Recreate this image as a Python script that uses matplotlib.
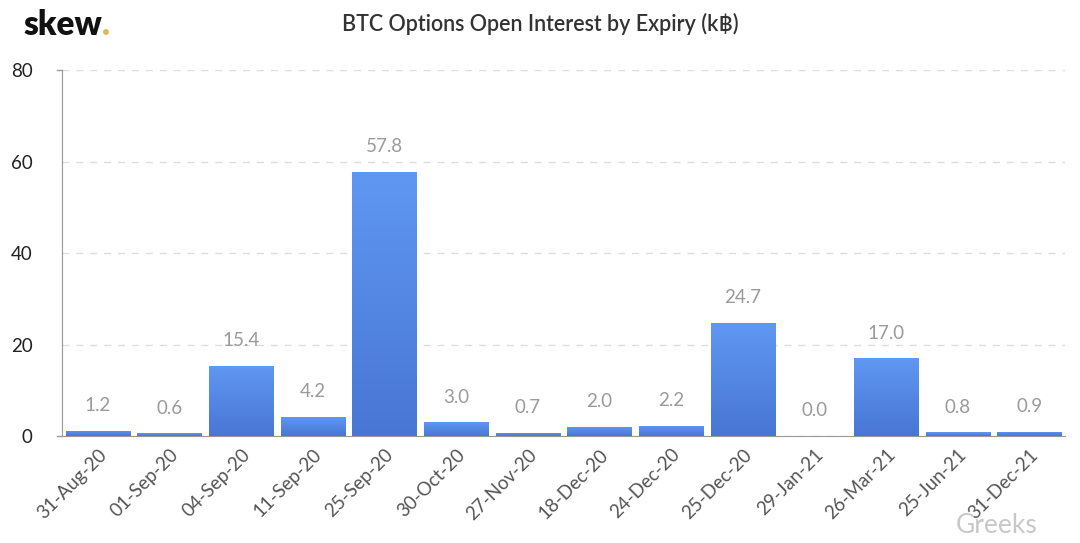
import numpy as np
import matplotlib.pyplot as plt
from matplotlib.colors import LinearSegmentedColormap

expiries = ['31-Aug-20', '01-Sep-20', '04-Sep-20', '11-Sep-20', '25-Sep-20',
            '30-Oct-20', '27-Nov-20', '18-Dec-20', '24-Dec-20', '25-Dec-20',
            '29-Jan-21', '26-Mar-21', '25-Jun-21', '31-Dec-21']
open_interest = [1.2, 0.6, 15.4, 4.2, 57.8, 3.0, 0.7, 2.0, 2.2, 24.7, 0.0, 17.0, 0.8, 0.9]
yticks = [0, 20, 40, 60, 80]

plt.rcParams['font.family'] = ['Lato', 'DejaVu Sans']

fig = plt.figure(figsize=(10.8, 5.43), dpi=100)
ax = fig.add_axes([0.0574, 0.197, 0.929, 0.674])

x = np.arange(len(expiries))
bars = ax.bar(x, open_interest, width=0.9, color='none', zorder=3)

# vertical gradient inside each bar
cmap = LinearSegmentedColormap.from_list('blu', ['#4876d4', '#5f98f2'])
grad = np.linspace(0, 1, 256).reshape(-1, 1)
for b in bars:
    h = b.get_height()
    if h <= 0:
        continue
    x0 = b.get_x()
    im = ax.imshow(grad, cmap=cmap, origin='lower', aspect='auto',
                   extent=[x0, x0 + b.get_width(), 0, h], zorder=3)
    im.set_clip_path(b)

for xi, v in zip(x, open_interest):
    ax.annotate(f'{v:.1f}', (xi, v), xytext=(0, 12), textcoords='offset points',
                ha='center', va='bottom', color='#9a9a9a', fontsize=13.5)

ax.set_xlim(-0.5, len(expiries) - 0.5)
ax.set_ylim(0, 80)
ax.set_yticks(yticks)
ax.set_xticks(x)
ax.set_xticklabels(expiries, rotation=45, ha='right', rotation_mode='anchor',
                   color='#555555', fontsize=13.5)
ax.tick_params(axis='y', labelsize=13.5, colors='#222222', length=0, pad=21)
ax.tick_params(axis='x', length=0, pad=7)
ax.yaxis.grid(True, linestyle=(0, (5, 5)), color='#dddddd', linewidth=1, zorder=0)
ax.set_axisbelow(True)
for s in ['top', 'right']:
    ax.spines[s].set_visible(False)
ax.spines['left'].set_color('#999999')
ax.spines['bottom'].set_color('#999999')
ax.plot([-0.57, -0.5], [80, 80], color='#999999', lw=1, clip_on=False)
ax.plot([-0.57, -0.5], [0, 0], color='#999999', lw=1, clip_on=False)

fig.text(0.5, 0.955, 'BTC Options Open Interest by Expiry (k\u0e3f)', ha='center', va='center',
         fontsize=15.5, color='#333333', fontweight='semibold')
fig.text(0.022, 0.935, 'skew', ha='left', va='baseline', fontsize=24,
         fontweight='heavy', color='#111111')
fig.text(0.094, 0.935, '.', ha='left', va='baseline', fontsize=24,
         fontweight='heavy', color='#e3b55a')
fig.text(0.885, 0.01, 'Greeks', ha='left', va='bottom', fontsize=19, color='#bbbbbb', alpha=0.8)

fig.savefig('out.png', dpi=100)
